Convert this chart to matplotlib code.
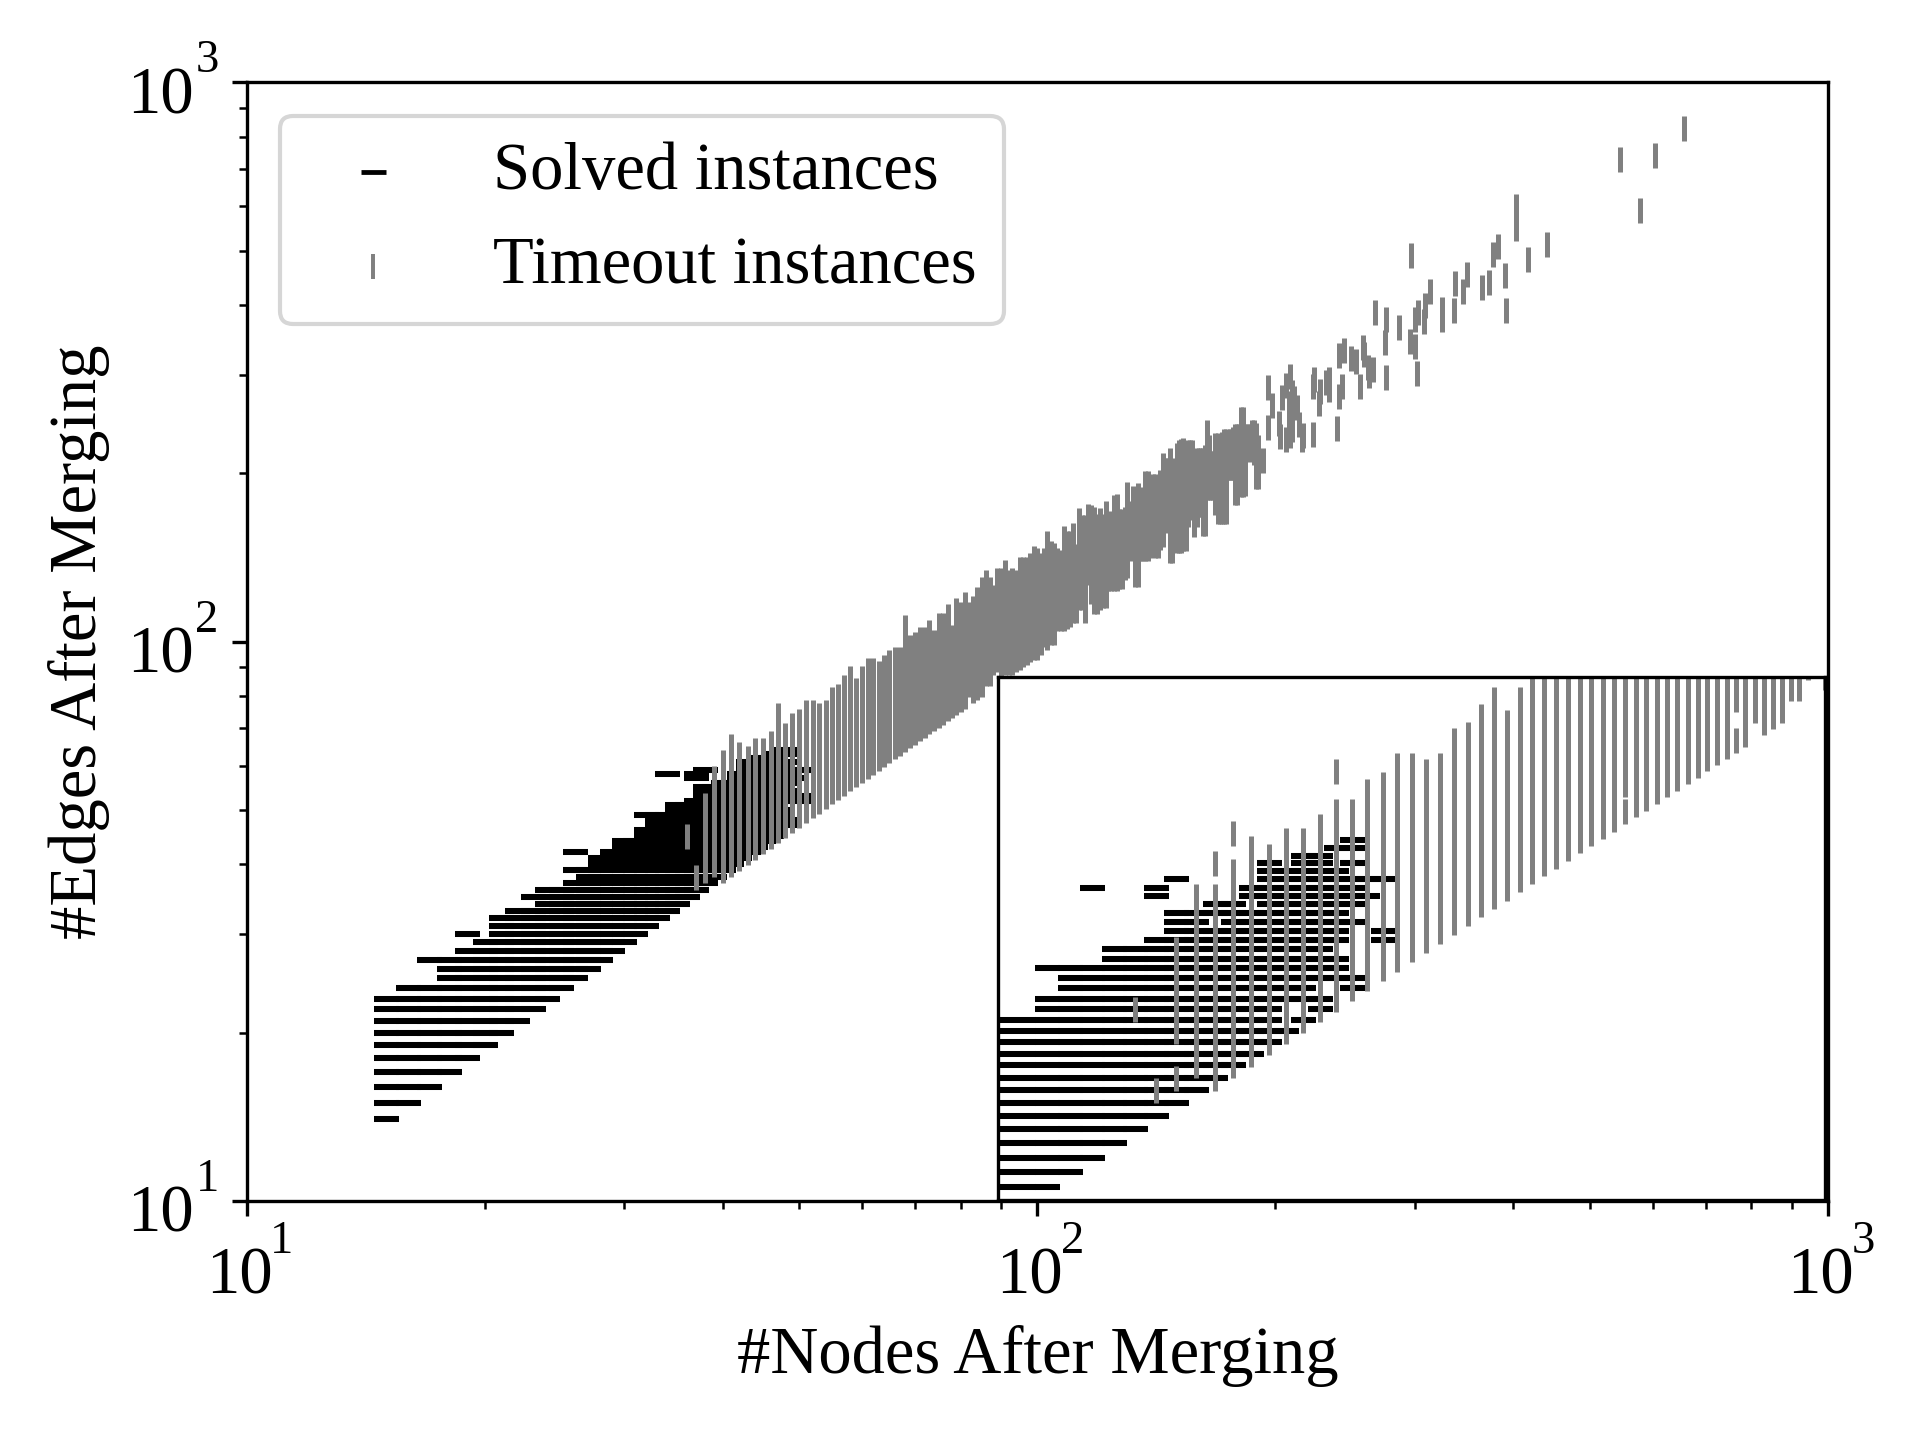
"""
plot.py - solved vs timeout instances by graph size after merging, log-log,
with a zoomed inset of the 30..90 region in the lower right corner.
"""
import matplotlib
matplotlib.use("Agg")
import matplotlib.pyplot as plt
import numpy as np
from matplotlib.ticker import FuncFormatter, NullLocator
from matplotlib.transforms import ScaledTranslation

plt.rcParams["font.family"] = ["Liberation Serif", "DejaVu Serif"]
plt.rcParams["font.size"] = 16

# solved instances: for each edge count, the run of node counts that is filled
solved_edges = list(range(14, 65))
solved_first = [15, 15, 15, 15, 15, 15, 15, 15, 15, 15,
                16, 18, 18, 17, 19, 20, 21, 21, 21, 22,
                24, 23, 24, 26, 27, 26, 28, 28, 29, 30,
                30, 32, 32, 33, 33, 32, 35, 35, 37, 38,
                41, 38, 43, 42, 42, 43, 43, 45, 45, 47, 48]
solved_last = [15, 16, 17, 18, 19, 20, 21, 22, 23, 24,
               25, 26, 27, 28, 29, 30, 31, 32, 33, 34,
               35, 36, 37, 38, 39, 40, 41, 42, 43, 44,
               43, 43, 46, 45, 48, 47, 47, 46, 47, 47,
               48, 47, 48, 49, 48, 50, 47, 46, 46, 48, 48]
# solved instances off those runs
solved_extra_nodes = [19, 26, 45, 46, 48, 50, 50, 38, 39, 40, 41, 37, 34, 37, 38, 43, 48]
solved_extra_edges = [30, 42, 44, 45, 47, 52, 53, 54, 54, 56, 56, 57, 58, 58, 59, 61, 61]

# timeout instances: for each node count, the run of edge counts that is filled
timeout_nodes = list(range(38, 191))
timeout_low = [43, 40, 39, 40, 41, 42, 43, 44, 45, 46,
               47, 48, 49, 50, 51, 52, 53, 54, 55, 56,
               57, 58, 59, 60, 61, 62, 63, 64, 65, 66,
               67, 72, 69, 70, 71, 72, 73, 74, 75, 76,
               77, 78, 86, 80, 84, 82, 83, 84, 88, 88,
               92, 93, 90, 92, 92, 92, 93, 94, 95, 96,
               97, 98, 98, 100, 103, 102, 104, 104, 110, 110,
               110, 111, 112, 114, 114, 120, 120, 114, 133, 123,
               118, 118, 120, 121, 121, 130, 130, 130, 130, 131,
               131, 136, 137, 147, 148, 132, 132, 147, 147, 147,
               147, 149, 160, 149, 149, 154, 156, 165, 176, 146,
               146, 178, 152, 152, 152, 153, 153, 169, 189, 174,
               162, 169, 176, 176, 163, 163, 189, 189, 189, 189,
               178, 171, 171, 171, 171, 171, 205, 205, 205, 205,
               185, 185, 211, 191, 191, 192, 221, 222, 222, 221,
               218, 198, 198]
timeout_high = [51, 57, 57, 60, 63, 62, 64, 64, 66, 68,
                68, 71, 72, 75, 75, 74, 75, 79, 80, 83,
                86, 82, 86, 89, 89, 88, 90, 92, 93, 93,
                106, 98, 99, 101, 101, 104, 100, 107, 107, 111,
                102, 114, 112, 117, 112, 115, 119, 124, 128, 124,
                120, 129, 129, 133, 128, 129, 128, 135, 135, 135,
                137, 141, 140, 137, 140, 150, 144, 143, 140, 139,
                153, 150, 150, 155, 142, 165, 160, 160, 168, 167,
                166, 161, 165, 161, 170, 162, 163, 174, 175, 164,
                164, 166, 184, 170, 181, 178, 183, 170, 180, 192,
                192, 186, 190, 190, 183, 193, 207, 203, 203, 211,
                203, 200, 216, 218, 219, 220, 203, 218, 218, 218,
                203, 211, 211, 211, 211, 214, 237, 223, 209, 209,
                225, 225, 223, 226, 228, 228, 214, 228, 228, 230,
                233, 233, 233, 250, 250, 233, 233, 230, 233, 237,
                237, 234, 223]
# timeout instances that stand apart, small graphs first, then the sparse top end
timeout_extra_nodes = [36, 37, 38, 40, 41, 47, 69, 80,
                       193, 196, 196, 198, 202, 203, 204, 206, 206, 208, 208,
                       209, 209, 209, 210, 210, 210, 210, 210, 210, 211, 213,
                       214, 216, 217, 223, 223, 224, 227, 228, 232, 234, 234,
                       239, 241, 241, 243, 244, 249, 253, 256, 258, 259, 262,
                       263, 266, 267, 275, 276, 276, 287, 296, 297, 300, 300,
                       302, 303, 308, 309, 314, 325, 325, 336, 337, 345, 349,
                       365, 373, 377, 382, 390, 391, 403, 403, 418, 441, 546,
                       579, 604, 657]
timeout_extra_edges = [45, 38, 39, 61, 65, 74, 68, 79,
                       211, 242, 285, 265, 246, 233, 274, 230, 288, 252, 267,
                       234, 259, 298, 240, 248, 256, 264, 272, 280, 273, 263,
                       245, 230, 234, 235, 286, 295, 267, 281, 291, 283, 295,
                       241, 275, 326, 287, 332, 322, 318, 286, 336, 327, 310,
                       300, 307, 389, 343, 297, 377, 365, 345, 492, 338, 377,
                       302, 388, 374, 400, 423, 377, 394, 391, 438, 424, 455,
                       431, 440, 494, 509, 453, 391, 550, 600, 484, 513, 728,
                       590, 740, 830]

tick_decades = [10, 100, 1000]
tick_exponents = ["1", "2", "3"]

FIG_W, FIG_H = 1920, 1440
DPI = 300


def axes_box(left, top, right, bottom):
    return [left / FIG_W, 1 - bottom / FIG_H, (right - left) / FIG_W, (bottom - top) / FIG_H]


def expand_rows(fixed, first, last):
    a, b = [], []
    for f, lo, hi in zip(fixed, first, last):
        for v in range(lo, hi + 1):
            a.append(f)
            b.append(v)
    return a, b


def draw_points(ax, with_labels=True):
    ax.scatter(solved_x, solved_y, marker="_", c="black", linewidths=1.45,
               label="Solved instances" if with_labels else None)
    ax.scatter(timeout_x, timeout_y, marker="|", c="gray", linewidths=1.2,
               label="Timeout instances" if with_labels else None)


def shift_label(label, dx_px, dy_px, fig):
    # move a tick label by whole pixels, y up
    offset = ScaledTranslation(dx_px / DPI, dy_px / DPI, fig.dpi_scale_trans)
    label.set_transform(label.get_transform() + offset)


solved_y, solved_x = expand_rows(solved_edges, solved_first, solved_last)
solved_x += solved_extra_nodes
solved_y += solved_extra_edges
timeout_x, timeout_y = expand_rows(timeout_nodes, timeout_low, timeout_high)
timeout_x += timeout_extra_nodes
timeout_y += timeout_extra_edges

fig = plt.figure(figsize=(6.4, 4.8), dpi=DPI)
ax = fig.add_axes(axes_box(246.7, 82.3, 1828, 1201))
draw_points(ax)
ax.set_xscale("log")
ax.set_yscale("log")
ax.set_xlim(10, 1000)
ax.set_ylim(10, 1000)
ax.set_xlabel("#Nodes After Merging")
ax.set_ylabel("#Edges After Merging")

leg = ax.legend(loc="upper left")
leg.legend_handles[0].set_linewidths(1.15)
leg.legend_handles[1].set_linewidths(0.95)

# the base of each power is the tick label, its exponent sits higher than mathtext puts it here
ax.xaxis.set_major_formatter(FuncFormatter(lambda v, pos: "10"))
ax.yaxis.set_major_formatter(FuncFormatter(lambda v, pos: "10"))
for lbl in ax.get_xticklabels():
    lbl.set_va("baseline")
    shift_label(lbl, -7.7, -63.8, fig)
for lbl in ax.get_yticklabels():
    lbl.set_va("baseline")
    shift_label(lbl, -24, -31, fig)
for dec, exp in zip(tick_decades, tick_exponents):
    ax.annotate(exp, xy=(dec, 0), xycoords=("data", "axes fraction"), xytext=(8.4, -12.5),
                textcoords="offset points", fontsize=11.2, ha="center", va="baseline")
    ax.annotate(exp, xy=(0, dec), xycoords=("axes fraction", "data"), xytext=(-9.5, 2.4),
                textcoords="offset points", fontsize=11.2, ha="center", va="baseline")

inset = fig.add_axes(axes_box(998.3, 677.3, 1824.7, 1200))
draw_points(inset, with_labels=False)
inset.set_xscale("log")
inset.set_yscale("log")
inset.set_xlim(30, 90)
inset.set_ylim(30.2, 90)
inset.xaxis.set_major_locator(NullLocator())
inset.xaxis.set_minor_locator(NullLocator())
inset.yaxis.set_major_locator(NullLocator())
inset.yaxis.set_minor_locator(NullLocator())

fig.savefig("out.png", dpi=DPI)
plt.close(fig)
